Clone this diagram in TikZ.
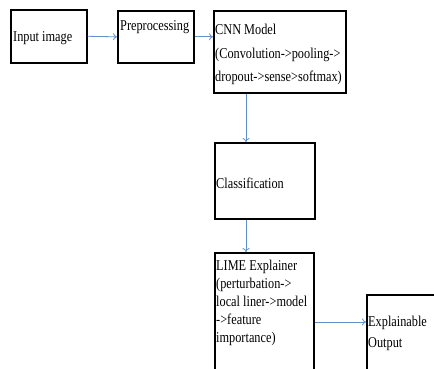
\documentclass[tikz,border=0pt]{standalone}
\usepackage{fontspec}
\setmainfont[FakeStretch=0.82]{Liberation Serif}
\usetikzlibrary{arrows.meta}
\definecolor{flowblue}{RGB}{95,145,205}
\tikzset{
  stage/.style={draw, line width=1.6pt, anchor=north west, inner sep=0pt},
  lbl/.style={inner sep=0pt, anchor=north west, align=left, font=\fontsize{15}{22}\selectfont},
  flow/.style={draw=flowblue, line width=0.8pt, -{To[length=4pt,width=7pt]}}
}
\begin{document}
\begin{tikzpicture}[x=1pt,y=-1pt]
\useasboundingbox (0,0) rectangle (434,369);
\clip (0,0) rectangle (434,369);

\node[stage, minimum width=76pt, minimum height=53pt] (inp) at (10,9) {};
\node[stage, minimum width=76pt, minimum height=52pt] (pre) at (117,10) {};
\node[stage, minimum width=132pt, minimum height=82pt] (cnn) at (213,10) {};
\node[stage, minimum width=100pt, minimum height=76pt] (cls) at (214,142) {};
\node[stage, minimum width=99pt, minimum height=125pt] (lime) at (214,252) {};
\node[stage, minimum width=80pt, minimum height=90pt] (out) at (366,294) {};

\node[lbl, anchor=west] (tinp) at ([xshift=3pt,yshift=-1.5pt]inp.west) {Input image};
\node[lbl] (tpre) at ([xshift=3pt,yshift=-10.5pt]pre.north west) {Preprocessing};
\node[lbl, font=\fontsize{15}{23.5}\selectfont] (tcnn) at ([xshift=2pt,yshift=-14pt]cnn.north west) {CNN Model\\(Convolution->pooling->\\dropout->sense>softmax)};
\node[lbl, anchor=west] (tcls) at ([xshift=2pt,yshift=-2pt]cls.west) {Classification};
\node[lbl, font=\fontsize{15}{18}\selectfont] (tlime) at ([xshift=2pt,yshift=-8pt]lime.north west) {LIME Explainer\\(perturbation->\\local liner->model\\->feature\\importance)};
\node[lbl, font=\fontsize{15}{21}\selectfont] (tout) at ([xshift=2pt,yshift=-21.5pt]out.north west) {Explainable\\Output};

\draw[flow] (inp.east) -- (pre.west);
\draw[flow] (pre.east) -- (pre.east -| cnn.west);
\draw[flow] ([xshift=33pt]cnn.south west) -- ([xshift=33pt]cnn.south west |- cls.north);
\draw[flow] ([xshift=32pt]cls.south west) -- ([xshift=32pt]cls.south west |- lime.north);
\draw[flow] ([yshift=-70pt]lime.north east) -- ([yshift=-70pt]lime.north east -| out.west);
\end{tikzpicture}
\end{document}
